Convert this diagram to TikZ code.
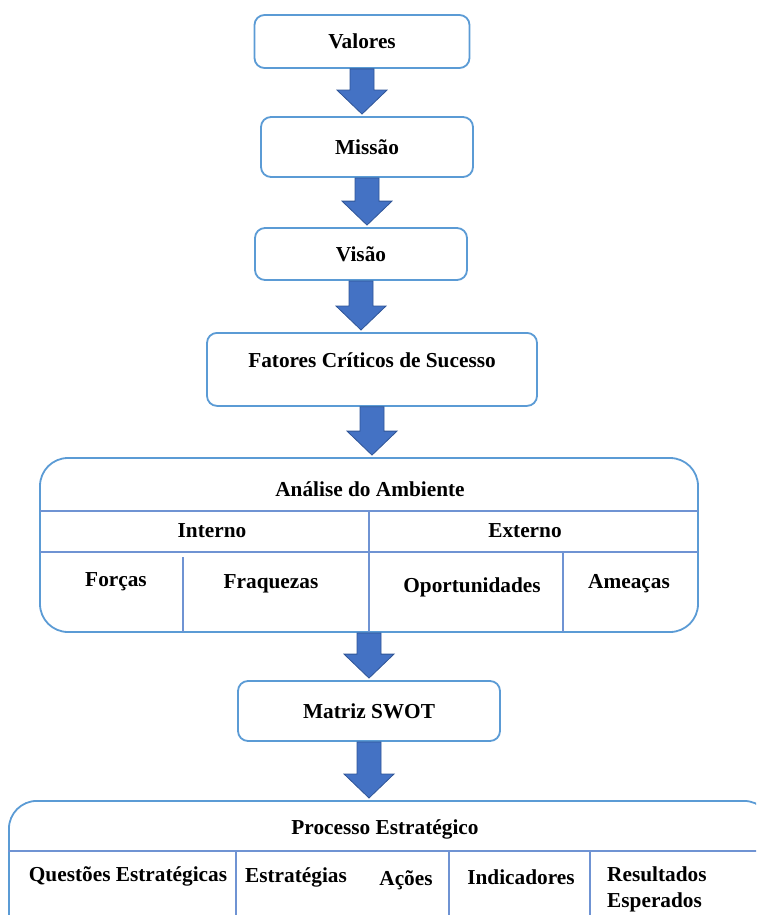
\documentclass[tikz,border=0pt]{standalone}
\usepackage{fontspec}
\setmainfont{Liberation Serif}
\usepackage{tikz}
\usetikzlibrary{calc,positioning}
\definecolor{boxblue}{HTML}{5B9BD5}
\definecolor{gridblue}{HTML}{6F93D3}
\definecolor{arrowblue}{HTML}{4472C4}
\definecolor{arrowedge}{HTML}{2F5597}

\tikzset{
    stagebox/.style={draw=boxblue, line width=1.8pt, rounded corners=10pt, fill=white,
        font=\fontsize{21.3}{26}\selectfont\bfseries, inner sep=0pt},
    bigbox/.style={draw=boxblue, line width=1.8pt, rounded corners=28pt, inner sep=0pt},
    cell/.style={font=\fontsize{21.3}{26}\selectfont\bfseries, inner sep=0pt},
    gridline/.style={draw=gridblue, line width=1.3pt},
    blockarrow/.style={fill=arrowblue, draw=arrowedge, line width=0.8pt,
        to path={let \p1=(\tikztostart), \p2=(\tikztotarget) in
            (\x1-12pt,\y1) -- (\x1+12pt,\y1) -- (\x1+12pt,\y2+26pt) -- (\x1+25pt,\y2+26pt)
            -- (\x1,\y2+2pt) -- (\x1-25pt,\y2+26pt) -- (\x1-12pt,\y2+26pt) -- cycle}}
}

\begin{document}
\begin{tikzpicture}[x=1pt,y=-1pt]
    \useasboundingbox (0,0) rectangle (756,915);
    \clip (0,0) rectangle (756,915);

    % Upper chain of stages
    \node[stagebox, minimum width=215pt, minimum height=53pt] (valores) at (362,41.5) {Valores};
    \node[stagebox, minimum width=212pt, minimum height=60pt] (missao) at (367,147) {Missão};
    \node[stagebox, minimum width=212pt, minimum height=52pt] (visao) at (361,254) {Visão};
    \node[stagebox, minimum width=330pt, text height=35pt, text depth=38pt, anchor=north] (fatores) at (372,332) {Fatores Críticos de Sucesso};

    % Environment analysis
    \node[bigbox, minimum width=658pt, minimum height=174pt] (analise) at (369,545) {};
    \draw[gridline] (40,511) -- (698,511);
    \draw[gridline] (40,552) -- (698,552);
    \draw[gridline] (369,511) -- (369,632);
    \draw[gridline] (183,557) -- (183,632);
    \draw[gridline] (563,552) -- (563,632);
    \node[cell] (titanalise) at (370,489) {Análise do Ambiente};
    \node[cell] (interno) at (212,531) {Interno};
    \node[cell] (externo) at (525,531) {Externo};
    \node[cell] (forcas) at (116,582) {Forças};
    \node[cell] (fraquezas) at (271,584) {Fraquezas};
    \node[cell] (oportunidades) at (472,587) {Oportunidades};
    \node[cell] (ameacas) at (629,584) {Ameaças};

    % SWOT matrix
    \node[stagebox, minimum width=262pt, minimum height=60pt] (matriz) at (369,711) {Matriz SWOT};

    % Strategic process (runs off the page)
    \node[bigbox, minimum width=763pt, minimum height=150pt, anchor=north west] (processo) at (8,800) {};
    \draw[gridline] (8,851) -- (771,851);
    \draw[gridline] (236,851) -- (236,950);
    \draw[gridline] (449,851) -- (449,950);
    \draw[gridline] (590,851) -- (590,950);
    \node[cell] (titprocesso) at (385,829) {Processo Estratégico};
    \node[cell] (questoes) at (128,876) {Questões Estratégicas};
    \node[cell] (estrategias) at (296,877) {Estratégias};
    \node[cell] (acoes) at (406,880) {Ações};
    \node[cell] (indicadores) at (521,877) {Indicadores};
    \node[cell, align=left, anchor=base west] (resultados) at (607,907) {Resultados\\Esperados};

    % Block arrows between stages
    \draw[blockarrow] (valores.south) to (missao.north);
    \draw[blockarrow] (missao.south) to (visao.north);
    \draw[blockarrow] (visao.south) to (fatores.north);
    \draw[blockarrow] (fatores.south) to (analise.north);
    \draw[blockarrow] (analise.south) to (matriz.north);
    \draw[blockarrow] (matriz.south) to (processo.north);

\end{tikzpicture}
\end{document}
